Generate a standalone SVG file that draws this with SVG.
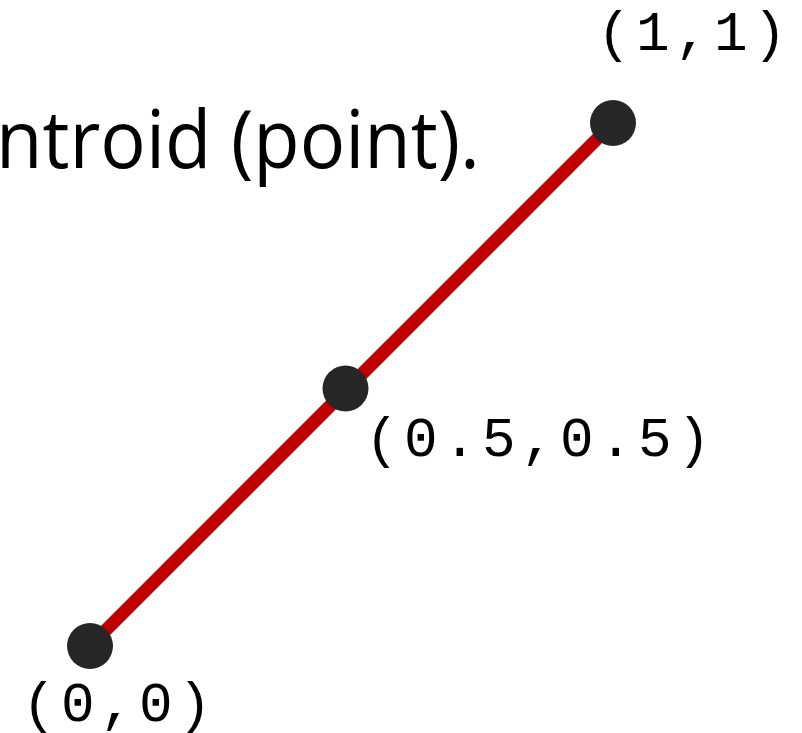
<svg xmlns="http://www.w3.org/2000/svg" width="802" height="733" viewBox="0 0 802 733">
<style>
.lbl{font-family:"Liberation Mono","Courier New",monospace;font-size:56px;letter-spacing:5.4px;fill:#000;}
.pt{fill:#262626;}
.title{font-family:"Open Sans","Noto Sans",sans-serif;font-size:80px;fill:#000;}
</style>
<rect width="802" height="733" fill="#fff"/>
<text class="title" x="-4" y="168" textLength="484" lengthAdjust="spacingAndGlyphs">ntroid (point).</text>
<g id="connectors">
<line x1="90" y1="646" x2="613" y2="123" stroke="#C00000" stroke-width="13"/>
</g>
<g id="p00">
<circle class="pt" cx="90" cy="646" r="23"/>
<text class="lbl" x="22" y="721">(0,0)</text>
</g>
<g id="pmid">
<circle class="pt" cx="345.5" cy="388.5" r="23"/>
<text class="lbl" x="365" y="456">(0.5,0.5)</text>
</g>
<g id="p11">
<circle class="pt" cx="613" cy="123" r="23"/>
<text class="lbl" x="597" y="50">(1,1)</text>
</g>
</svg>
